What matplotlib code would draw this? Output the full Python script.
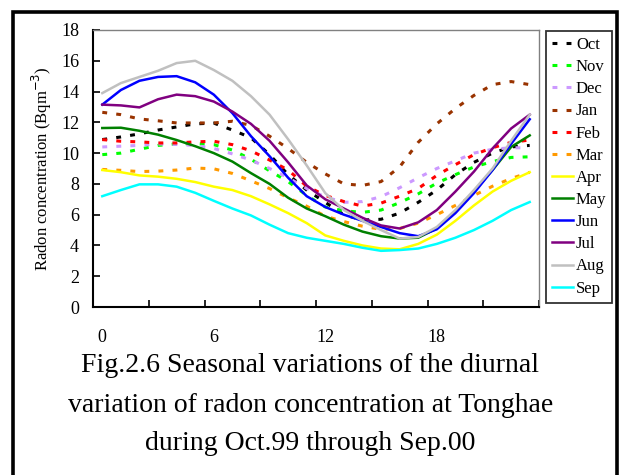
import matplotlib
matplotlib.use('Agg')
import matplotlib.pyplot as plt
from matplotlib.patches import Rectangle
from matplotlib.ticker import FixedLocator

plt.rcParams['font.family'] = ['Liberation Serif', 'DejaVu Serif']

# hourly mean radon concentration, 0..23 h
HOURS = list(range(24))
MONTHS = ['Oct', 'Nov', 'Dec', 'Jan', 'Feb', 'Mar', 'Apr', 'May', 'Jun', 'Jul', 'Aug', 'Sep']

oct_ = [10.88, 11.05, 11.25, 11.5, 11.7, 11.9, 11.95, 11.5, 11.0, 9.9, 8.6, 7.6,
        6.8, 6.0, 5.65, 5.7, 6.1, 6.8, 7.6, 8.6, 9.4, 10.0, 10.4, 10.5]
nov = [9.9, 10.0, 10.25, 10.5, 10.6, 10.62, 10.55, 10.2, 9.6, 8.85, 8.15, 7.25,
       6.5, 6.25, 6.15, 6.3, 6.78, 7.35, 8.05, 8.6, 9.1, 9.45, 9.72, 9.76]
dec = [10.4, 10.45, 10.5, 10.6, 10.56, 10.5, 10.3, 9.95, 9.55, 9.0, 8.4, 7.7,
       7.15, 6.8, 6.85, 7.17, 7.75, 8.4, 9.0, 9.5, 10.0, 10.25, 10.35, 10.34]
jan = [12.65, 12.5, 12.22, 12.1, 11.96, 11.96, 11.96, 12.07, 11.8, 11.1, 10.3, 9.4,
       8.65, 8.0, 7.9, 8.15, 9.1, 10.7, 11.9, 12.9, 13.75, 14.45, 14.65, 14.45]
feb = [10.88, 10.77, 10.73, 10.66, 10.66, 10.73, 10.77, 10.55, 10.15, 9.55, 8.9, 7.85,
       7.25, 6.85, 6.56, 6.75, 7.2, 7.7, 8.55, 9.25, 9.9, 10.35, 10.7, 10.85]
mar = [8.94, 8.88, 8.8, 8.83, 8.9, 9.03, 8.98, 8.68, 8.2, 7.7, 7.1, 6.55,
       5.9, 5.55, 5.25, 5.05, 5.1, 5.45, 6.0, 6.6, 7.25, 7.85, 8.35, 8.75]
apr = [8.9, 8.76, 8.55, 8.47, 8.33, 8.12, 7.82, 7.6, 7.2, 6.67, 6.1, 5.45,
       4.65, 4.3, 4.0, 3.8, 3.75, 4.1, 4.7, 5.6, 6.6, 7.5, 8.2, 8.76]
may = [11.63, 11.65, 11.45, 11.2, 10.85, 10.45, 10.0, 9.45, 8.7, 8.0, 7.1, 6.4,
       5.9, 5.35, 4.9, 4.6, 4.45, 4.5, 5.1, 6.2, 7.5, 8.9, 10.4, 11.15]
jun = [13.15, 14.1, 14.7, 14.95, 15.0, 14.6, 13.8, 12.6, 11.1, 9.8, 8.4, 7.2,
       6.5, 6.0, 5.6, 5.2, 4.8, 4.6, 5.05, 6.1, 7.4, 8.9, 10.6, 12.2]
jul = [13.15, 13.1, 12.97, 13.5, 13.8, 13.7, 13.35, 12.7, 11.9, 10.8, 9.4, 7.9,
       7.0, 6.4, 5.8, 5.3, 5.1, 5.5, 6.3, 7.5, 8.8, 10.3, 11.6, 12.5]
aug = [13.9, 14.55, 14.95, 15.35, 15.85, 16.0, 15.4, 14.7, 13.7, 12.5, 10.9, 9.2,
       7.4, 6.3, 5.6, 5.0, 4.45, 4.55, 5.2, 6.3, 7.6, 9.0, 10.8, 12.5]
sep = [7.2, 7.6, 7.97, 7.97, 7.82, 7.42, 6.9, 6.4, 5.95, 5.35, 4.8, 4.5,
       4.3, 4.1, 3.85, 3.65, 3.7, 3.8, 4.1, 4.5, 5.0, 5.6, 6.3, 6.82]

SERIES = [oct_, nov, dec, jan, feb, mar, apr, may, jun, jul, aug, sep]
COLORS = ['#000000', '#00FF00', '#CC99FF', '#993300', '#FF0000', '#FF9900',
          '#FFFF00', '#008000', '#0000FF', '#800080', '#C0C0C0', '#00FFFF']
DASHED = [True] * 6 + [False] * 6

fig = plt.figure(figsize=(6.24, 4.75), dpi=100)
ax = fig.add_axes([93 / 624, 1 - 307 / 475, 446 / 624, 277 / 475])

for vals, name, col, dashed in zip(SERIES, MONTHS, COLORS, DASHED):
    if dashed:
        ax.plot(HOURS, vals, color=col, lw=2.2, linestyle=(0, (1.6, 3.0)), label=name)
    else:
        ax.plot(HOURS, vals, color=col, lw=1.8, label=name)

ax.set_xlim(-0.5, 23.5)
ax.set_ylim(0, 18)
ax.set_yticks(range(0, 19, 2))
ax.set_xticks([0, 6, 12, 18])
ax.xaxis.set_minor_locator(FixedLocator([-0.5 + 3 * k for k in range(9)]))
ax.tick_params(axis='x', which='major', length=0, pad=16, labelsize=13)
ax.tick_params(axis='x', which='minor', direction='in', length=5, width=1.2)
ax.tick_params(axis='y', direction='in', length=5, width=1.2, pad=10, labelsize=13)

for side in ['left', 'bottom']:
    ax.spines[side].set_linewidth(1.5)
    ax.spines[side].set_color('black')
for side in ['top', 'right']:
    ax.spines[side].set_linewidth(1.0)
    ax.spines[side].set_color('#808080')

ax.set_ylabel('Radon concentration (Bqm$^{-3}$)', fontsize=12, labelpad=5)

leg = ax.legend(loc='upper left', bbox_to_anchor=(546 / 624, 1 - 31 / 475),
                bbox_transform=fig.transFigure, fontsize=12, frameon=True,
                fancybox=False, edgecolor='#333333', framealpha=1,
                handlelength=1.25, handletextpad=0.2, labelspacing=0.37,
                borderpad=0.35, borderaxespad=0)
leg.get_frame().set_linewidth(1.3)

# caption
fig.text(0.497, 1 - 366 / 475, 'Fig.2.6 Seasonal variations of the diurnal',
         ha='center', va='center', fontsize=20)
fig.text(0.497, 1 - 405 / 475, 'variation of radon concentration at Tonghae',
         ha='center', va='center', fontsize=20)
fig.text(0.497, 1 - 444 / 475, 'during Oct.99 through Sep.00',
         ha='center', va='center', fontsize=20)

# outer frame (open at bottom)
fig.add_artist(Rectangle((13 / 624, -0.05), 604 / 624, 1.05 - 12 / 475,
                         transform=fig.transFigure, fill=False,
                         edgecolor='black', lw=2.6))

fig.savefig('out.png', dpi=100)
